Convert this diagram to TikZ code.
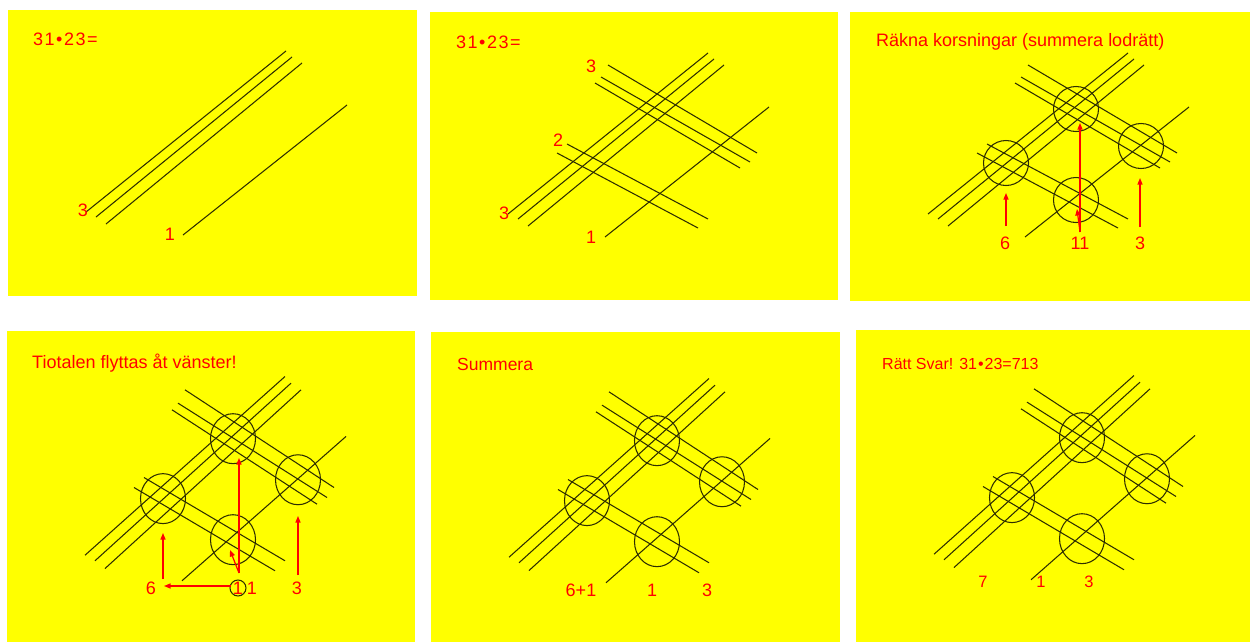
\documentclass[tikz,border=0pt]{standalone}
\usepackage{fontspec}
\setmainfont{Liberation Sans}
\usetikzlibrary{arrows.meta}
\definecolor{panelyellow}{RGB}{255,255,0}
\definecolor{txtred}{RGB}{255,0,0}
\definecolor{inkline}{RGB}{45,45,0}
\tikzset{
  panel/.style={fill=panelyellow,draw=none},
  gl/.style={draw=inkline,line width=1.05pt},
  ring/.style={draw=inkline,line width=1.05pt},
  lbl/.style={text=txtred,font=\fontsize{18}{21}\selectfont,inner sep=0pt},
  ttl/.style={lbl,anchor=base west,font=\fontsize{18}{21}\selectfont},
  arr/.style={draw=txtred,line width=1.2pt,-{Triangle[length=6.5pt,width=5pt]}},
}
\newcommand\mylinesA{%
  \draw[gl] (78,202)--(278,41);
  \draw[gl] (88,207)--(284,47);
  \draw[gl] (98,214)--(294,53);
  \draw[gl] (175,225)--(339,95);}
\newcommand\mylinesB{%
  \draw[gl] (137,132)--(278,207);
  \draw[gl] (127,141)--(268,216);
  \draw[gl] (178,53)--(327,141);
  \draw[gl] (171,65)--(320,150);
  \draw[gl] (165,71)--(310,156);}
\newcommand\myrings{%
  \draw[ring] (226,97) circle[radius=22.5];
  \draw[ring] (156,151) circle[radius=22.5];
  \draw[ring] (226,188) circle[radius=22.5];
  \draw[ring] (291,134) circle[radius=22.5];}
\newcommand\myprodtext{3\kern1.5pt1\kern1.5pt•\kern1.5pt2\kern1.5pt3\kern1.5pt=}
\begin{document}
\begin{tikzpicture}[x=1pt,y=-1pt]
\useasboundingbox (0,0) rectangle (1250,643);
\fill[white] (0,0) rectangle (1250,643);
% panels
\fill[panel] (8,10) rectangle (417,296);
\fill[panel] (430,12) rectangle (838,300);
\fill[panel] (850,12) rectangle (1250,301);
\fill[panel] (7,331) rectangle (415,642);
\fill[panel] (431,332) rectangle (840,642);
\fill[panel] (856,330) rectangle (1250,642);

% ---------- panel 1
\begin{scope}[shift={(8,10)}]
  \mylinesA
  \node[ttl] (p1t) at (25,35.5) {\myprodtext};
  \node[lbl] (p1a) at (75,200) {3};
  \node[lbl] (p1b) at (162,224) {1};
\end{scope}

% ---------- panel 2
\begin{scope}[shift={(430,12)}]
  \mylinesA
  \mylinesB
  \node[ttl] (p2t) at (26,36.5) {\myprodtext};
  \node[lbl] (p2a) at (161,54) {3};
  \node[lbl] (p2b) at (128,128) {2};
  \node[lbl] (p2c) at (74,201) {3};
  \node[lbl] (p2d) at (161,225) {1};
\end{scope}

% ---------- panel 3
\begin{scope}[shift={(850,12)}]
  \mylinesA
  \mylinesB
  \myrings
  \node[ttl] (p3t) at (26,34.5) {Räkna korsningar (summera lodrätt)};
  \node[lbl] (p3six) at (155,231) {6};
  \node[lbl] (p3elev) at (230,231) {11};
  \node[lbl] (p3three) at (290,231) {3};
  \coordinate (p3s0) at (156,214); \coordinate (p3s1) at (156,181);
  \coordinate (p3e0) at (230,220); \coordinate (p3e1) at (230,111);
  \coordinate (p3f1) at (227,197);
  \coordinate (p3t0) at (290,215); \coordinate (p3t1) at (290,166);
  \draw[arr] (p3s0)--(p3s1);
  \draw[arr] (p3e0)--(p3f1);
  \draw[arr] (p3e0)--(p3e1);
  \draw[arr] (p3t0)--(p3t1);
\end{scope}

% ---------- panel 4
\begin{scope}[shift={(7,331)}]
  \begin{scope}[yscale=1.11]
    \mylinesA
    \mylinesB
    \myrings
  \end{scope}
  \node[ttl] (p4t) at (25,37.5) {Tiotalen flyttas åt vänster!};
  \node[lbl] (p4six) at (144,257) {6};
  \node[lbl] (p4one) at (231,257) {1};
  \node[lbl] (p4two) at (245,257) {1};
  \node[lbl] (p4three) at (290,257) {3};
  \draw[ring] (p4one) circle[radius=8];
  \coordinate (p4s0) at (156,248); \coordinate (p4s1) at (156,202);
  \coordinate (p4e0) at (232,242); \coordinate (p4e1) at (232,127);
  \coordinate (p4f1) at (223,219);
  \coordinate (p4h0) at (224,255); \coordinate (p4h1) at (157,255);
  \coordinate (p4t0) at (291,244); \coordinate (p4t1) at (291,185);
  \draw[arr] (p4s0)--(p4s1);
  \draw[arr] (p4e0)--(p4f1);
  \draw[arr] (p4e0)--(p4e1);
  \draw[arr] (p4h0)--(p4h1);
  \draw[arr] (p4t0)--(p4t1);
\end{scope}

% ---------- panel 5
\begin{scope}[shift={(431,333)}]
  \begin{scope}[yscale=1.11]
    \mylinesA
    \mylinesB
    \myrings
  \end{scope}
  \node[ttl,font=\fontsize{17.5}{21}\selectfont] (p5t) at (26,37.5) {Summera};
  \node[lbl] (p5a) at (150,257) {6+1};
  \node[lbl] (p5b) at (221,257) {1};
  \node[lbl] (p5c) at (276,257) {3};
\end{scope}

% ---------- panel 6
\begin{scope}[shift={(856,330)}]
  \begin{scope}[yscale=1.11]
    \mylinesA
    \mylinesB
    \myrings
  \end{scope}
  \node[ttl,font=\fontsize{16}{20}\selectfont] (p6t) at (26,39) {Rätt Svar! 31\kern1pt•\kern1pt23=713};
  \node[lbl,font=\fontsize{16.5}{19}\selectfont] (p6a) at (127,252) {7};
  \node[lbl,font=\fontsize{16.5}{19}\selectfont] (p6b) at (185,252) {1};
  \node[lbl,font=\fontsize{16.5}{19}\selectfont] (p6c) at (233,252) {3};
\end{scope}
\end{tikzpicture}
\end{document}
